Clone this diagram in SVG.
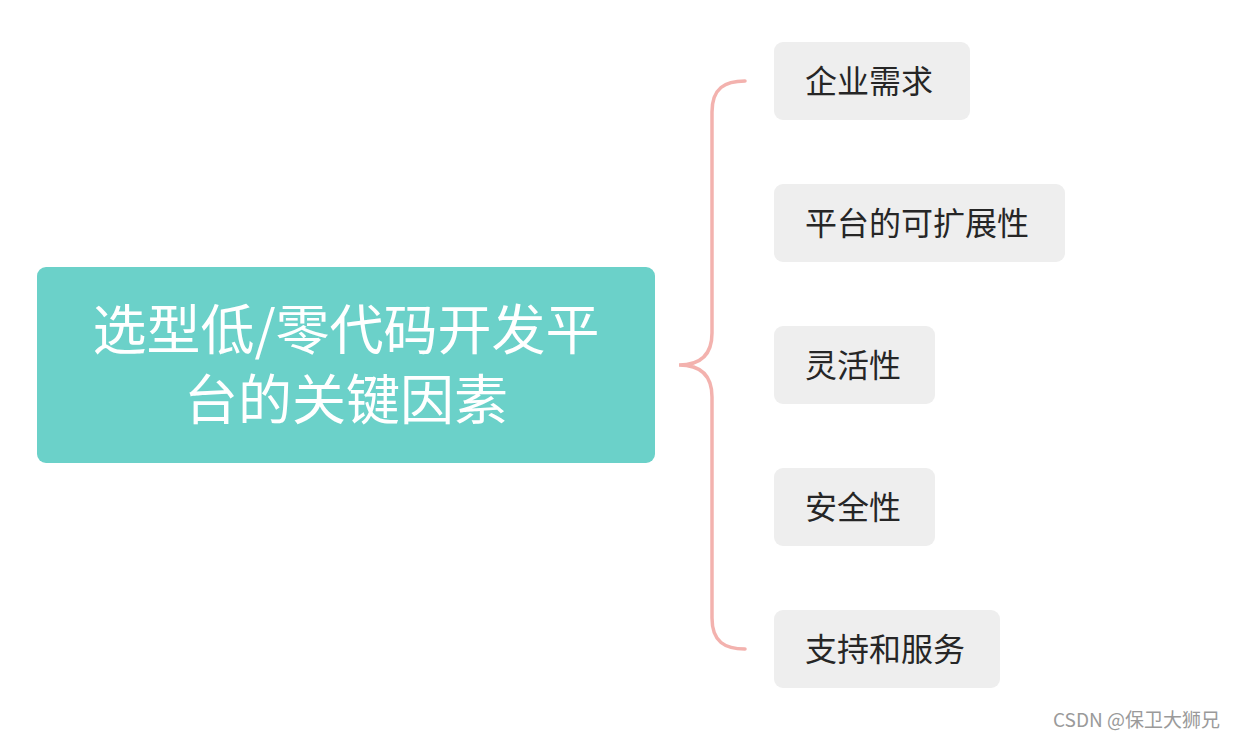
<svg xmlns="http://www.w3.org/2000/svg" width="1236" height="740" viewBox="0 0 1236 740">
<style>
.cjk{font-family:"Microsoft YaHei","Noto Sans CJK SC","Noto Sans",sans-serif}
.child rect{fill:#eeeeee}
.child text{font-size:32px;fill:#262626}
.main text{font-size:54px;fill:#ffffff}
.brace{fill:none;stroke:#f3b2ae;stroke-width:3.5;stroke-linecap:round}
</style>
<rect width="1236" height="740" fill="#ffffff"/>
<g id="connectors">
<path class="brace" d="M745 81 C725 81 712 88 712 112 L712 333 C712 355 700 365 679 365 C700 365 712 375 712 397 L712 618 C712 642 725 649 745 649"/>
</g>
<g id="root" class="main cjk">
<rect x="37" y="267" width="618" height="196" rx="9" fill="#6bd1c9"/>
<text text-anchor="middle"><tspan x="346" y="350">选型低/零代码开发平</tspan><tspan x="346" y="420">台的关键因素</tspan></text>
</g>
<g id="n1" class="child cjk">
<rect x="774" y="42" width="196" height="78" rx="9"/>
<text x="805" y="93">企业需求</text>
</g>
<g id="n2" class="child cjk">
<rect x="774" y="184" width="291" height="78" rx="9"/>
<text x="805" y="235">平台的可扩展性</text>
</g>
<g id="n3" class="child cjk">
<rect x="774" y="326" width="161" height="78" rx="9"/>
<text x="805" y="377">灵活性</text>
</g>
<g id="n4" class="child cjk">
<rect x="774" y="468" width="161" height="78" rx="9"/>
<text x="805" y="519">安全性</text>
</g>
<g id="n5" class="child cjk">
<rect x="774" y="610" width="226" height="78" rx="9"/>
<text x="805" y="661">支持和服务</text>
</g>
<text x="1220" y="727" text-anchor="end" class="cjk" font-size="19" fill="#9a9a9a">CSDN @保卫大狮兄</text>
</svg>
